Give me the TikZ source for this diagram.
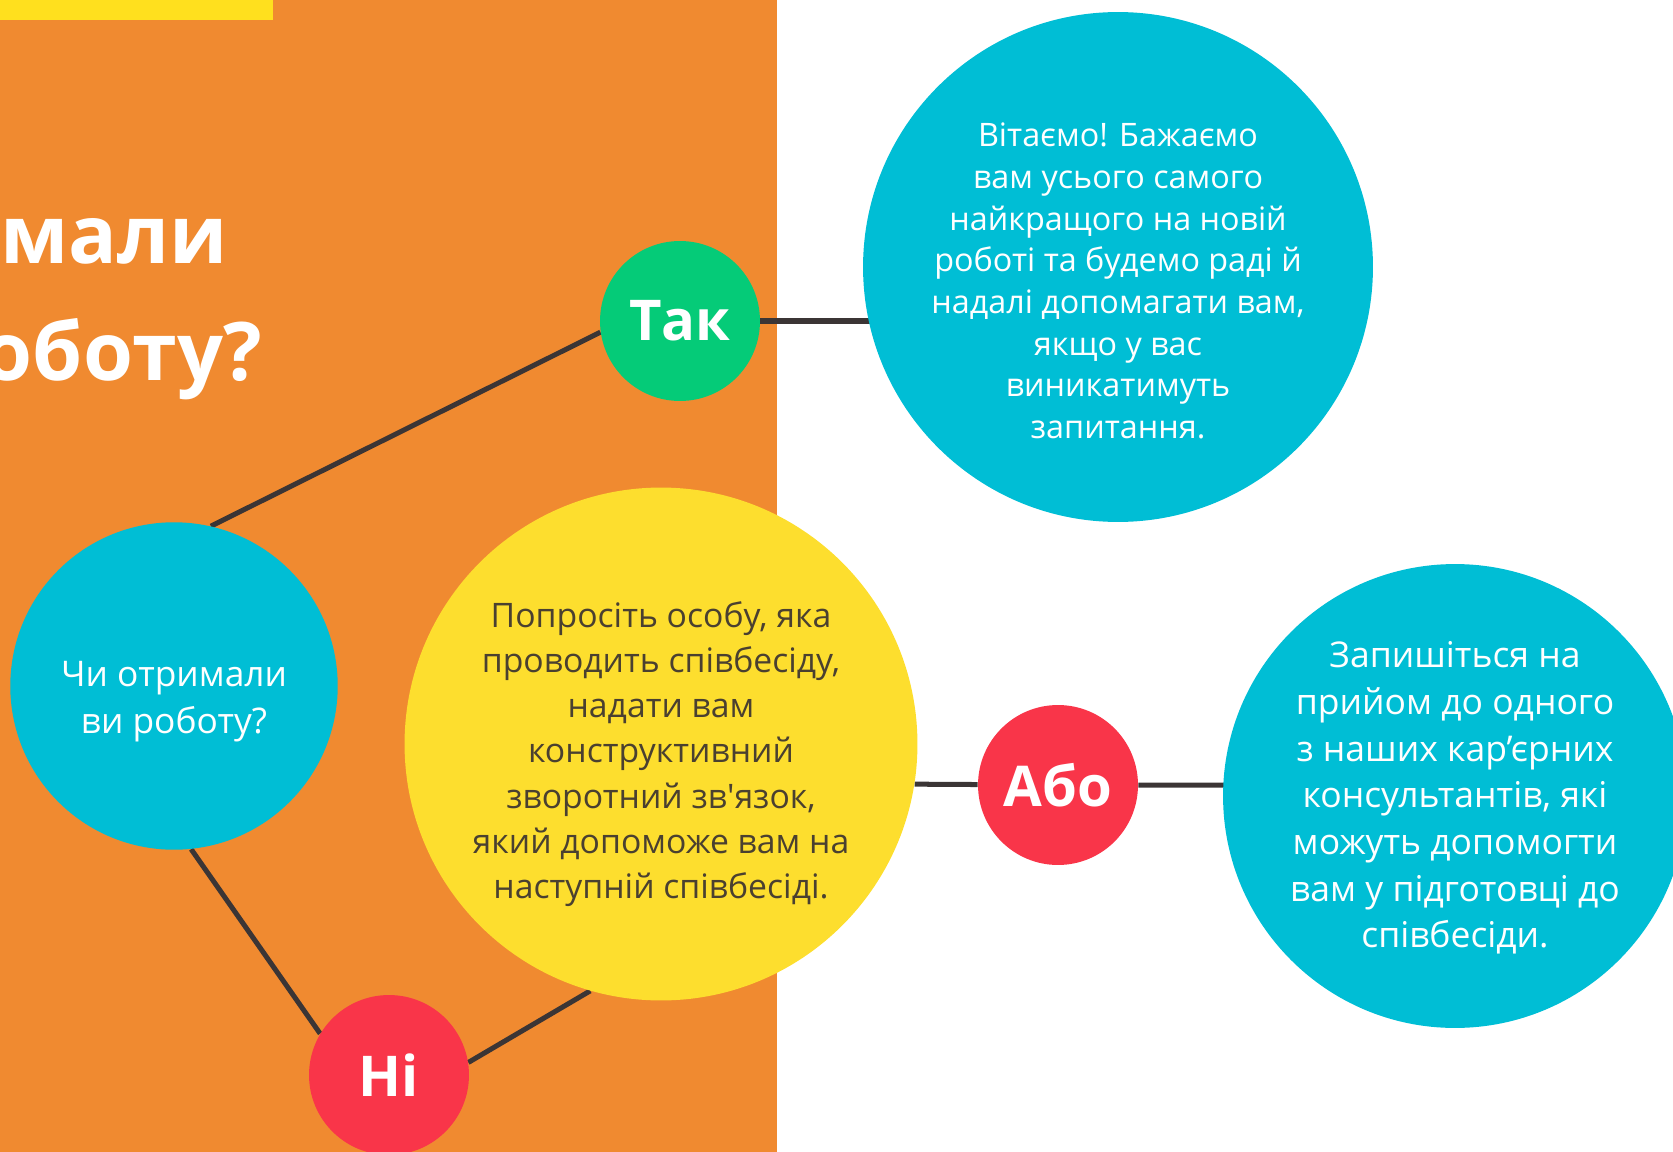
\documentclass[tikz,border=0pt]{standalone}
\usepackage{fontspec}
\setmainfont{Open Sans}[Ligatures=TeXOff]
\usetikzlibrary{backgrounds}
\definecolor{panel}{HTML}{F08A30}
\definecolor{topbar}{HTML}{FFE01E}
\definecolor{bluebub}{HTML}{00BED5}
\definecolor{greenbub}{HTML}{05CB78}
\definecolor{redbub}{HTML}{F93549}
\definecolor{yellowbub}{HTML}{FDDE2E}
\definecolor{linegray}{HTML}{3B3535}
\definecolor{darktext}{HTML}{4A4030}

\begin{document}
\begin{tikzpicture}[x=0.02cm,y=-0.02cm,
  bubble/.style={circle,inner sep=0pt},
  bubtext/.style={inner sep=0pt,align=center,text=white},
  answer/.style={bubble,minimum size=3.2cm,text=white,font=\bfseries\fontsize{32}{32}\selectfont},
  titletext/.style={inner sep=0pt,text=white,font=\bfseries\fontsize{46}{46}\selectfont},
  link/.style={line width=2.85pt,draw=linegray}]
  \useasboundingbox (0,0) rectangle (1673,1152);
  \clip (0,0) rectangle (1673,1152);

  % title, cut off by the left edge
  \node[titletext,anchor=base west] (title1) at (0,263) {мали};
  \node[titletext,anchor=base east] (title2) at (262,380) {роботу?};

  % bubbles
  \node[bubble,fill=bluebub,minimum size=6.55cm] (quest) at (174,686) {};
  \node[answer,fill=greenbub] (tak) at (680,321) {Так};
  \node[answer,fill=redbub] (ni) at (389,1075) {Ні};
  \node[answer,fill=redbub] (abo) at (1058,785) {Або};
  \node[bubble,fill=bluebub,minimum size=10.2cm] (congrats) at (1118,267) {};
  \node[bubble,fill=yellowbub,minimum size=10.26cm] (feedback) at (661,744) {};
  \node[bubble,fill=bluebub,minimum size=9.28cm] (consult) at (1455,796) {};

  % texts in the bubbles
  \node[bubtext,font=\fontsize{20.1}{26.7}\selectfont] (questtxt) at (174,702)
    {Чи отримали\\ви роботу?};
  \node[bubtext,font=\fontsize{18.4}{23.7}\selectfont] (congratstxt) at (1118,281)
    {Вітаємо! Бажаємо\\вам усього самого\\найкращого на новій\\роботі та будемо раді й\\надалі допомагати вам,\\якщо у вас\\виникатимуть\\запитання.};
  \node[bubtext,text=darktext,font=\fontsize{19.2}{25.7}\selectfont] (feedbacktxt) at (661,754)
    {Попросіть особу, яка\\проводить співбесіду,\\надати вам\\конструктивний\\зворотний зв'язок,\\який допоможе вам на\\наступній співбесіді.};
  \node[bubtext,font=\fontsize{20.2}{26.6}\selectfont] (consulttxt) at (1455,798)
    {Запишіться на\\прийом до одного\\з наших кар’єрних\\консультантів, які\\можуть допомогти\\вам у підготовці до\\співбесіди.};

  \begin{scope}[on background layer]
    \fill[panel] (0,0) rectangle (777,1152);   % orange panel
    \fill[topbar] (0,0) rectangle (273,20);    % yellow strip
    \draw[link] (quest.77) -- (tak.188);
    \draw[link] (tak) -- (tak -| congrats);
    \draw[link] (quest.276) -- (ni.149);
    \draw[link] (ni.9) -- (feedback.254);
    \draw[link] (feedback.-9) -- (abo) -- (abo -| consult);
  \end{scope}
\end{tikzpicture}
\end{document}
